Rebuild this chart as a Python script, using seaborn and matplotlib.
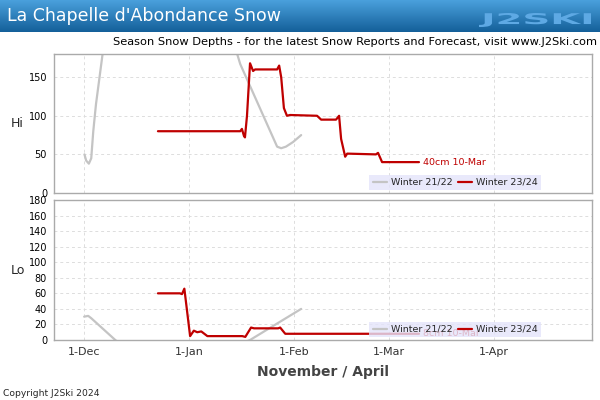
import numpy as np
import pandas as pd
import matplotlib
matplotlib.use('Agg')
import matplotlib.pyplot as plt
import matplotlib.transforms as mtransforms
from matplotlib.textpath import TextPath
from matplotlib.patches import PathPatch
from matplotlib.font_manager import FontProperties
import seaborn as sns

# day numbers counted from 1-Nov
month_ticks = [30, 61, 92, 120, 151]
month_labels = ['1-Dec', '1-Jan', '1-Feb', '1-Mar', '1-Apr']

# Winter 21/22 (grey), top station
hi_2122_day = [30.1, 30.6, 31.4, 32.1, 32.7, 33.5, 35.6, 40, 55, 68, 75.2, 76.1, 87.0, 88.2, 89.6, 91.7, 94.1]
hi_2122_cm = [50, 42, 38, 45, 80, 115, 185, 240, 260, 230, 180, 167, 60, 58, 60, 66, 75]
# Winter 23/24 (red), top station
hi_2324_day = [51.8, 75.2, 76.1, 76.6, 77.2, 77.5, 78.1, 79.0, 79.9, 80.5, 87.0, 87.6, 88.2, 89.0, 89.9,
               90.8, 98.8, 100.0, 104.4, 105.3, 105.9, 107.1, 107.7, 116.2, 116.8, 118.0, 128.9]
hi_2324_cm = [80, 80, 80, 83, 74, 72, 100, 168, 158, 160, 160, 165, 150, 110, 100,
              101, 100, 95, 95, 100, 70, 47, 51, 50, 52, 40, 40]

# Winter 21/22 (grey), bottom station
lo_2122_day = [30.0, 31.2, 32.1, 39.2, 45, 60, 70, 79.0, 94.1]
lo_2122_cm = [30, 31, 28, 0, -20, -30, -15, 0, 40]
# Winter 23/24 (red), bottom station
lo_2324_day = [51.8, 58.3, 58.9, 59.6, 61.3, 62.4, 63.4, 64.6, 66.4, 76.7, 77.6, 79.3, 80.2,
               87.3, 87.9, 89.4, 128.9]
lo_2324_cm = [60, 60, 59, 66, 5, 12, 10, 11, 5, 5, 4, 16, 15, 15, 16, 8, 8]

grey = '#c4c4c4'
red = '#bf0000'

sns.set_style('white')
plt.rcParams['font.family'] = ['DejaVu Sans']

fig = plt.figure(figsize=(6, 4), dpi=100)

# header bar with blue gradient
hdr = fig.add_axes([0, 368 / 400, 1, 32 / 400])
grad = np.linspace(0, 1, 64).reshape(-1, 1)
cmap = matplotlib.colors.LinearSegmentedColormap.from_list('hdr', ['#4aa0dc', '#14609a'])
hdr.imshow(grad, aspect='auto', cmap=cmap, extent=[0, 1, 0, 1], origin='upper')
hdr.set_axis_off()
hdr.text(0.012, 0.5, "La Chapelle d'Abondance Snow", color='white', fontsize=12.5, va='center', ha='left')

# stretched logo text
tp = TextPath((0, 0), 'J2SKI', size=1, prop=FontProperties(family='DejaVu Sans', weight='bold'))
ext = tp.get_extents()
sx = 112 / ext.width
sy = 14 / ext.height
tr = (mtransforms.Affine2D().translate(-ext.x0, -ext.y0).scale(sx, sy).translate(479, 400 - 27)
      + mtransforms.Affine2D().scale(1 / 600, 1 / 400) + fig.transFigure)
fig.patches.append(PathPatch(tp, transform=tr, facecolor='#5ea9e4', edgecolor='none'))

fig.text(0.995, 1 - 42 / 400, 'Season Snow Depths - for the latest Snow Reports and Forecast, visit www.J2Ski.com',
         fontsize=8.2, ha='right', va='center', color='black')

ax1 = fig.add_axes([54 / 600, (400 - 193) / 400, 538 / 600, 139 / 400])
ax2 = fig.add_axes([54 / 600, (400 - 340) / 400, 538 / 600, 140 / 400])

panels = [
    (ax1, hi_2122_day, hi_2122_cm, hi_2324_day, hi_2324_cm, [0, 50, 100, 150], 'Hi', '40cm 10-Mar'),
    (ax2, lo_2122_day, lo_2122_cm, lo_2324_day, lo_2324_cm, list(range(0, 181, 20)), 'Lo', '8cm 10-Mar'),
]

for ax, d1, v1, d2, v2, yt, name, note in panels:
    df1 = pd.DataFrame({'day': d1, 'cm': v1})
    df2 = pd.DataFrame({'day': d2, 'cm': v2})
    sns.lineplot(data=df1, x='day', y='cm', ax=ax, color=grey, lw=1.6, sort=False, estimator=None,
                 label='Winter 21/22')
    sns.lineplot(data=df2, x='day', y='cm', ax=ax, color=red, lw=1.6, sort=False, estimator=None,
                 label='Winter 23/24')
    ax.annotate(note, (d2[-1], v2[-1]), xytext=(3, 0), textcoords='offset points',
                fontsize=6.8, color=red, va='center', ha='left')
    ax.set_xlim(21.1, 180)
    ax.set_ylim(0, 180)
    ax.set_yticks(yt)
    ax.set_yticklabels([str(t) for t in yt], fontsize=7)
    ax.set_xticks(month_ticks)
    ax.grid(True, color='#dddddd', ls=(0, (3, 3)), lw=0.7)
    ax.set_xlabel('')
    ax.set_ylabel(name, rotation=0, fontsize=9, labelpad=8, va='center')
    for s in ax.spines.values():
        s.set_color('#aaaaaa')
        s.set_linewidth(1)
    ax.tick_params(axis='both', length=0, pad=5, colors='black')
    leg = ax.legend(loc='lower right', bbox_to_anchor=((541 - 54) / 538, 0.02), ncol=2, fontsize=6.8,
                    frameon=True, fancybox=False, handlelength=1.5, handletextpad=0.4,
                    columnspacing=0.6, borderpad=0.35, borderaxespad=0)
    leg.get_frame().set_facecolor('#e4e4fa')
    leg.get_frame().set_edgecolor('none')
    leg.get_frame().set_alpha(0.8)

ax1.set_xticklabels([])
ax2.set_xticklabels(month_labels, fontsize=8, color='#333333')
ax2.set_xlabel('November / April', fontsize=10, fontweight='bold', color='#444444', labelpad=6)

fig.text(3 / 600, 1 - 393 / 400, 'Copyright J2Ski 2024', fontsize=6.6, ha='left', va='center')

fig.savefig('out.png', dpi=100)
